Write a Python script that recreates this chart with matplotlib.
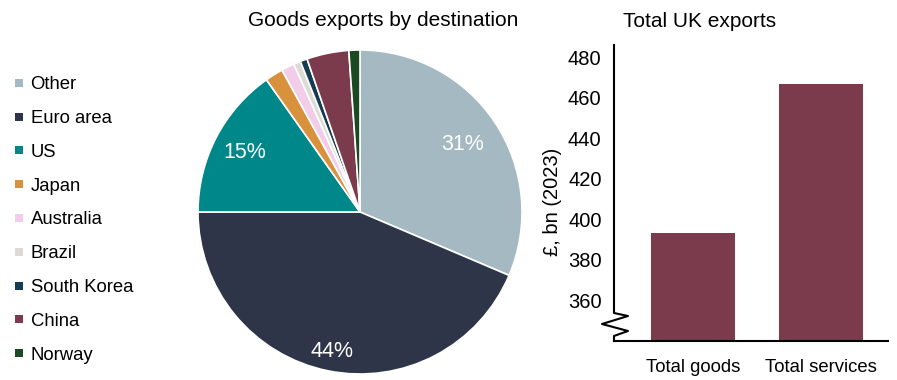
import matplotlib.pyplot as plt
from matplotlib.patches import Rectangle
from matplotlib.lines import Line2D
import numpy as np

plt.rcParams['font.family'] = ['Liberation Sans', 'DejaVu Sans']

# Goods exports by destination (share, %)
destinations = ['Other', 'Euro area', 'US', 'Japan', 'Australia', 'Brazil',
                'South Korea', 'China', 'Norway']
shares = [31.4, 43.6, 15.2, 1.8, 1.3, 0.7, 0.7, 4.2, 1.1]
colours = ['#a5b9c3', '#2e3548', '#00878a', '#d8913c', '#f2cdea', '#dcdcd4',
           '#153c52', '#7b3b4c', '#1b4a22']
labelled = ['Other', 'Euro area', 'US']
label_dist = [0.76, 0.88, 0.80]

# Total UK exports, GBP bn (2023)
totals_names = ['Total goods', 'Total services']
totals = [393.4, 466.9]
bar_colour = '#7b3b4c'

W, H = 897, 380
fig = plt.figure(figsize=(W / 100, H / 100), dpi=100)

# Pie chart
cx, cy, r = 360, 212, 162
ax_pie = fig.add_axes([(cx - r) / W, (H - cy - r) / H, 2 * r / W, 2 * r / H])
wedges, _ = ax_pie.pie(shares, colors=colours, startangle=90, counterclock=False,
                       wedgeprops=dict(edgecolor='white', linewidth=1.2))
ax_pie.set_xlim(-1, 1)
ax_pie.set_ylim(-1, 1)
ax_pie.set_aspect('equal')

for name, dist in zip(labelled, label_dist):
    i = destinations.index(name)
    w = wedges[i]
    mid = np.deg2rad((w.theta1 + w.theta2) / 2)
    ax_pie.text(dist * np.cos(mid), dist * np.sin(mid), f'{shares[i]:.0f}%',
                color='white', fontsize=15.5, ha='center', va='center')

fig.text(383 / W, 1 - 26 / H, 'Goods exports by destination', fontsize=15,
         ha='center', va='baseline')

# Legend
for i, (name, c) in enumerate(zip(destinations, colours)):
    yc = 82.7 + 33.8 * i
    fig.add_artist(Rectangle((15 / W, 1 - (yc + 4) / H), 8 / W, 8 / H,
                             transform=fig.transFigure, color=c, lw=0))
    fig.text(30.5 / W, 1 - yc / H, name, fontsize=13.3, ha='left', va='center_baseline')

# Bar chart
x0, x1, ytop, ybot = 614, 888, 45, 341
ax_bar = fig.add_axes([x0 / W, (H - ybot) / H, (x1 - x0) / W, (ybot - ytop) / H])
xs = np.arange(len(totals))
ax_bar.bar(xs, totals, width=0.656, color=bar_colour)
ax_bar.set_xlim(-0.617, 1.523)
ax_bar.set_ylim(340, 486)
ax_bar.set_yticks(range(360, 481, 20))
ax_bar.set_xticks(xs)
ax_bar.set_xticklabels(totals_names)
ax_bar.tick_params(axis='y', length=0, pad=9, labelsize=14.5)
ax_bar.tick_params(axis='x', length=0, pad=13, labelsize=13.3)
for side in ['top', 'right', 'left']:
    ax_bar.spines[side].set_visible(False)
ax_bar.spines['bottom'].set_linewidth(1.5)
ax_bar.set_ylabel('£, bn (2023)', fontsize=14.5)
ax_bar.yaxis.set_label_coords(-0.19, 0.47)

# y axis with a break near the bottom
axis_x = [614, 614, 628, 602, 628, 614, 614]
axis_y = [45, 313, 316, 324, 331, 336, 341]
fig.add_artist(Line2D([v / W for v in axis_x], [1 - v / H for v in axis_y],
                      transform=fig.transFigure, color='black', lw=1.5))

fig.text(700 / W, 1 - 27 / H, 'Total UK exports', fontsize=15, ha='center', va='baseline')

plt.savefig('out.png', dpi=100)
